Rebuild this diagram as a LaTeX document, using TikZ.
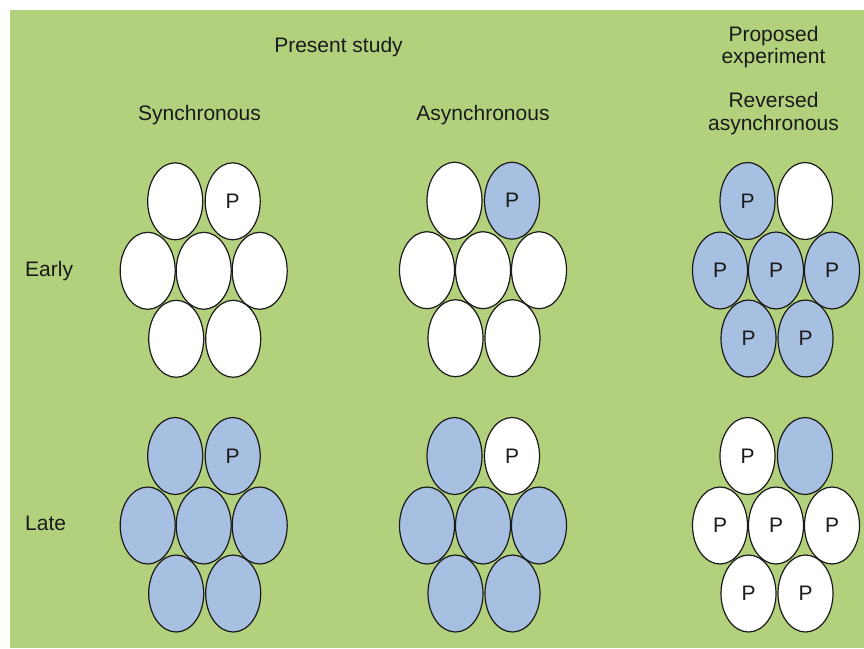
\documentclass[tikz,border=0pt]{standalone}
\usepackage{fontspec}
\setmainfont{Liberation Sans}
\usetikzlibrary{shapes.geometric}
\definecolor{bggreen}{RGB}{179,209,125}
\definecolor{eggblue}{RGB}{167,191,225}
\definecolor{ink}{RGB}{26,26,26}
\tikzset{
  egg/.style={ellipse, draw=ink, line width=1.2pt, minimum width=55pt, minimum height=77pt,
    inner sep=0pt, text=ink, font=\fontsize{21}{24}\selectfont},
  w/.style={fill=white},
  b/.style={fill=eggblue},
  lbl/.style={text=ink, font=\fontsize{21}{24}\selectfont, inner sep=0pt},
}
\newcommand\eggcluster[4]{%
  \foreach \f/\t [count=\i] in {#4} {
    \pgfmathsetmacro\dx{{-28.5,29,-56,0,56,-27.5,29.5}[\i-1]}
    \pgfmathsetmacro\dy{{-69.5,-69.5,0,0,0,68,68}[\i-1]}
    \node[egg,\f] (#1\i) at (#2+\dx, #3+\dy) {\t};
  }
}
\begin{document}
\begin{tikzpicture}[x=1pt,y=-1pt]
\useasboundingbox (0,0) rectangle (864,648);
\fill[bggreen] (10,10) rectangle (864,648);
% headings
\node[lbl, anchor=base] (present) at (338.5,52) {Present study};
\node[lbl, anchor=base] (sync) at (199.5,120) {Synchronous};
\node[lbl, anchor=base] (async) at (483,120) {Asynchronous};
\node[lbl, anchor=base] (prop1) at (773.5,41) {Proposed};
\node[lbl, anchor=base] (prop2) at (773.5,63.5) {experiment};
\node[lbl, anchor=base] (rev1) at (773.5,107.5) {Reversed};
\node[lbl, anchor=base] (rev2) at (773.5,130) {asynchronous};
\node[lbl, anchor=base west] (early) at (25,276) {Early};
\node[lbl, anchor=base west] (late) at (25,530) {Late};
% clusters
\eggcluster{se}{203.7}{270.8}{w/,w/P,w/,w/,w/,w/,w/}
\eggcluster{ae}{483}{270.2}{w/,b/P,w/,w/,w/,w/,w/}
\eggcluster{re}{776}{270.5}{b/P,w/,b/P,b/P,b/P,b/P,b/P}
\eggcluster{sl}{203.7}{525.5}{b/,b/P,b/,b/,b/,b/,b/}
\eggcluster{al}{483}{525.5}{b/,w/P,b/,b/,b/,b/,b/}
\eggcluster{rl}{776}{525.5}{w/P,b/,w/P,w/P,w/P,w/P,w/P}
\end{tikzpicture}
\end{document}
